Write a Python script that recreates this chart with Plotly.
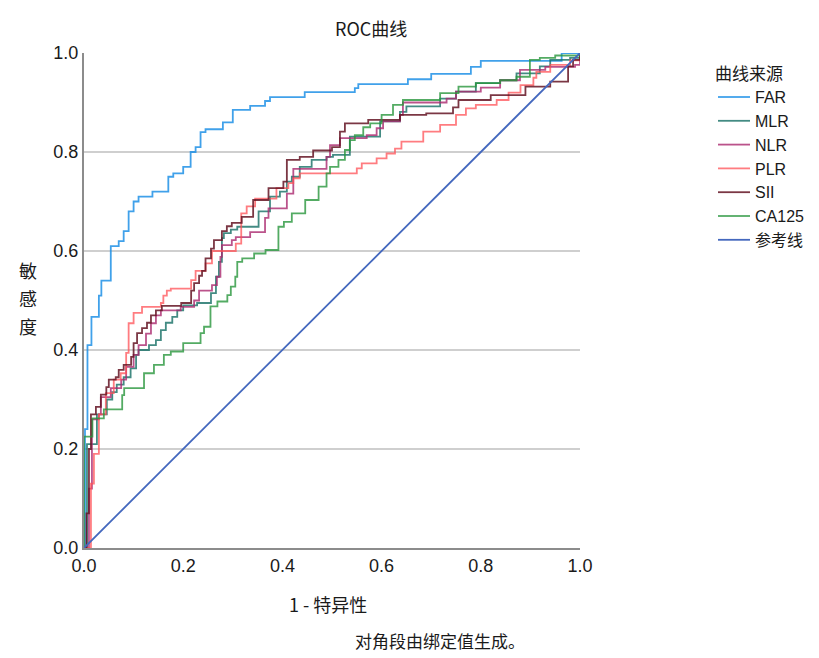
import plotly.graph_objects as go

# ROC step points: at each fpr the sensitivity rises to tpr
far_fpr = [0, 0.002, 0.007, 0.015, 0.03, 0.035, 0.054, 0.07, 0.08, 0.09, 0.10, 0.11, 0.138, 0.17, 0.18, 0.20, 0.215, 0.225, 0.235, 0.245, 0.28, 0.30, 0.335, 0.365, 0.375, 0.445, 0.546, 0.553, 0.653, 0.70, 0.78, 0.80, 0.963, 1.0]
far_tpr = [0, 0.24, 0.41, 0.467, 0.51, 0.54, 0.61, 0.62, 0.64, 0.68, 0.70, 0.71, 0.72, 0.75, 0.757, 0.77, 0.80, 0.81, 0.84, 0.846, 0.86, 0.885, 0.893, 0.903, 0.911, 0.921, 0.929, 0.937, 0.947, 0.958, 0.972, 0.984, 1.0, 1.0]

mlr_fpr = [0, 0.006, 0.026, 0.046, 0.057, 0.066, 0.08, 0.094, 0.105, 0.11, 0.131, 0.145, 0.155, 0.165, 0.178, 0.188, 0.20, 0.228, 0.256, 0.266, 0.272, 0.278, 0.282, 0.296, 0.309, 0.352, 0.375, 0.395, 0.409, 0.419, 0.435, 0.459, 0.489, 0.502, 0.536, 0.597, 0.637, 0.65, 0.718, 0.75, 0.79, 0.839, 0.872, 0.919, 0.94, 0.98, 1.0]
mlr_tpr = [0, 0.21, 0.27, 0.30, 0.315, 0.33, 0.345, 0.363, 0.39, 0.40, 0.41, 0.42, 0.44, 0.455, 0.467, 0.48, 0.49, 0.495, 0.515, 0.548, 0.578, 0.626, 0.636, 0.643, 0.649, 0.68, 0.71, 0.72, 0.74, 0.75, 0.77, 0.784, 0.79, 0.794, 0.831, 0.862, 0.881, 0.892, 0.908, 0.922, 0.939, 0.945, 0.959, 0.973, 0.986, 0.99, 1.0]

nlr_fpr = [0, 0.01, 0.016, 0.03, 0.034, 0.054, 0.075, 0.085, 0.1, 0.11, 0.125, 0.135, 0.145, 0.155, 0.195, 0.222, 0.232, 0.258, 0.268, 0.275, 0.278, 0.298, 0.306, 0.335, 0.365, 0.372, 0.409, 0.422, 0.489, 0.496, 0.516, 0.57, 0.59, 0.603, 0.637, 0.643, 0.731, 0.75, 0.80, 0.839, 0.879, 0.93, 0.99, 1.0]
nlr_tpr = [0, 0.12, 0.26, 0.27, 0.305, 0.323, 0.34, 0.366, 0.39, 0.41, 0.433, 0.454, 0.47, 0.48, 0.487, 0.50, 0.52, 0.531, 0.548, 0.588, 0.612, 0.622, 0.628, 0.638, 0.667, 0.686, 0.716, 0.766, 0.79, 0.814, 0.828, 0.834, 0.848, 0.862, 0.875, 0.90, 0.908, 0.922, 0.93, 0.945, 0.966, 0.972, 0.976, 1.0]

plr_fpr = [0, 0.014, 0.02, 0.03, 0.044, 0.06, 0.074, 0.085, 0.09, 0.10, 0.117, 0.155, 0.16, 0.167, 0.175, 0.216, 0.225, 0.245, 0.258, 0.306, 0.317, 0.328, 0.345, 0.388, 0.412, 0.422, 0.435, 0.55, 0.56, 0.59, 0.61, 0.627, 0.64, 0.684, 0.718, 0.75, 0.77, 0.79, 0.832, 0.856, 0.88, 0.906, 0.912, 0.94, 0.98, 1.0]
plr_tpr = [0, 0.13, 0.19, 0.27, 0.313, 0.34, 0.353, 0.394, 0.454, 0.475, 0.487, 0.495, 0.51, 0.52, 0.524, 0.541, 0.56, 0.575, 0.60, 0.615, 0.676, 0.69, 0.706, 0.727, 0.737, 0.747, 0.757, 0.767, 0.777, 0.787, 0.797, 0.807, 0.821, 0.841, 0.855, 0.875, 0.888, 0.895, 0.905, 0.92, 0.935, 0.95, 0.962, 0.976, 0.985, 1.0]

sii_fpr = [0, 0.005, 0.01, 0.014, 0.024, 0.034, 0.045, 0.05, 0.064, 0.07, 0.08, 0.095, 0.1, 0.107, 0.117, 0.127, 0.135, 0.145, 0.157, 0.196, 0.216, 0.222, 0.232, 0.238, 0.245, 0.256, 0.262, 0.278, 0.288, 0.298, 0.318, 0.341, 0.372, 0.402, 0.409, 0.435, 0.462, 0.50, 0.516, 0.526, 0.573, 0.637, 0.69, 0.744, 0.755, 0.82, 0.89, 0.94, 0.976, 0.986, 1.0]
sii_tpr = [0, 0.07, 0.2, 0.27, 0.285, 0.31, 0.325, 0.34, 0.345, 0.36, 0.37, 0.386, 0.414, 0.434, 0.444, 0.455, 0.47, 0.48, 0.489, 0.495, 0.52, 0.535, 0.55, 0.56, 0.585, 0.605, 0.622, 0.64, 0.65, 0.657, 0.669, 0.703, 0.727, 0.74, 0.784, 0.79, 0.803, 0.81, 0.841, 0.858, 0.865, 0.875, 0.878, 0.89, 0.905, 0.915, 0.932, 0.942, 0.973, 0.986, 1.0]

ca125_fpr = [0, 0, 0.017, 0.04, 0.077, 0.081, 0.121, 0.141, 0.161, 0.175, 0.2, 0.235, 0.242, 0.255, 0.269, 0.289, 0.296, 0.305, 0.309, 0.319, 0.343, 0.366, 0.392, 0.403, 0.419, 0.446, 0.473, 0.489, 0.496, 0.513, 0.526, 0.536, 0.546, 0.563, 0.577, 0.6, 0.623, 0.643, 0.718, 0.755, 0.79, 0.839, 0.872, 0.899, 0.919, 0.95, 1.0]
ca125_tpr = [0, 0.225, 0.262, 0.28, 0.309, 0.323, 0.353, 0.37, 0.39, 0.397, 0.414, 0.434, 0.447, 0.488, 0.498, 0.511, 0.528, 0.548, 0.578, 0.585, 0.595, 0.602, 0.649, 0.659, 0.676, 0.703, 0.73, 0.757, 0.77, 0.784, 0.804, 0.824, 0.834, 0.85, 0.858, 0.875, 0.895, 0.905, 0.919, 0.932, 0.939, 0.945, 0.952, 0.986, 0.99, 0.995, 1.0]

ref_x = [0, 1]
ref_y = [0, 1]

tick_vals = [0.0, 0.2, 0.4, 0.6, 0.8, 1.0]
tick_text = ["0.0", "0.2", "0.4", "0.6", "0.8", "1.0"]

series = [
    ("FAR", far_fpr, far_tpr, "rgba(30,144,230,0.85)"),
    ("MLR", mlr_fpr, mlr_tpr, "rgba(20,110,100,0.80)"),
    ("NLR", nlr_fpr, nlr_tpr, "rgba(170,40,110,0.80)"),
    ("PLR", plr_fpr, plr_tpr, "rgba(255,80,85,0.75)"),
    ("SII", sii_fpr, sii_tpr, "rgba(100,20,35,0.85)"),
    ("CA125", ca125_fpr, ca125_tpr, "rgba(40,150,60,0.80)"),
]

fig = go.Figure()
for name, xs, ys, col in series:
    fig.add_trace(go.Scatter(x=xs, y=ys, mode="lines", name=name,
                             line=dict(color=col, width=1.8, shape="hv")))
fig.add_trace(go.Scatter(x=ref_x, y=ref_y, mode="lines", name="参考线",
                         line=dict(color="#4468be", width=1.8)))

font_main = "Liberation Sans, Arial, Noto Sans CJK SC, sans-serif"
font_cjk = "Noto Sans CJK SC, sans-serif"

# the page adds an 8px body margin, so work in screen pixels minus 8
OFF = 8
W, H = 819 - OFF, 658 - OFF
L, R, T, B = 84 - OFF, 580 - OFF, 53 - OFF, 548 - OFF


def px_x(px):
    return (px - OFF - L) / (R - L)


def px_y(py):
    return (B - (py - OFF)) / (B - T)


fig.update_layout(
    width=W, height=H,
    margin=dict(l=L, r=W - R, t=T, b=H - B, autoexpand=False),
    paper_bgcolor="white", plot_bgcolor="white",
    font=dict(family=font_main, size=17, color="#1a1a1a"),
    showlegend=True,
    legend=dict(
        x=px_x(713), y=px_y(58), xanchor="left", yanchor="top",
        title=dict(text="曲线来源", font=dict(family=font_cjk, size=17)),
        font=dict(family=font_main, size=16),
        tracegroupgap=0, itemwidth=32, bgcolor="rgba(0,0,0,0)",
    ),
    xaxis=dict(range=[0, 1], tickvals=tick_vals, ticktext=tick_text,
               showgrid=False, zeroline=False, showline=True,
               linecolor="#8c8c8c", linewidth=2, ticks="",
               tickfont=dict(size=18), fixedrange=True, automargin=False),
    yaxis=dict(range=[0, 1], tickvals=tick_vals, ticktext=tick_text,
               showgrid=True, gridcolor="#cfcfcf", gridwidth=2,
               zeroline=False, showline=True, linecolor="#8c8c8c",
               linewidth=2, ticks="", tickfont=dict(size=18),
               fixedrange=True, automargin=False),
)

labels = [
    ("ROC曲线", 371, 28, 18),
    ("敏", 28, 270, 18),
    ("感", 28, 298, 18),
    ("度", 28, 326, 18),
    ("1 - 特异性", 328, 604, 18),
    ("对角段由绑定值生成。", 440, 640, 17),
]
for text, px, py, size in labels:
    fig.add_annotation(text=text, x=px_x(px), y=px_y(py), xref="paper",
                       yref="paper", showarrow=False, xanchor="center",
                       yanchor="middle", font=dict(family=font_cjk, size=size))

fig.write_html("out.html")
